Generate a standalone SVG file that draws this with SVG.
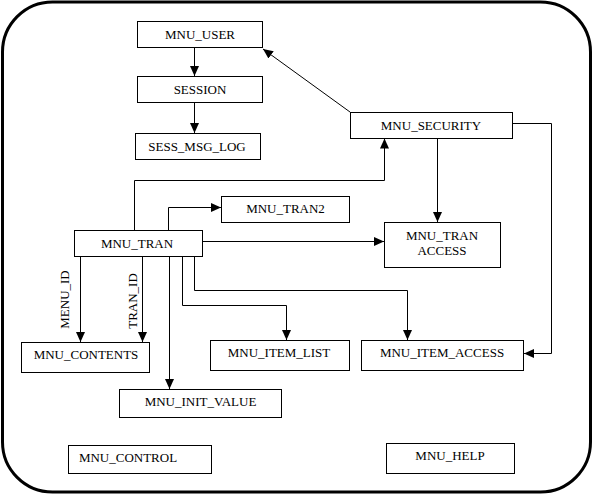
<svg xmlns="http://www.w3.org/2000/svg" width="593" height="495" viewBox="0 0 593 495">
<style>
.box{fill:#fff;stroke:#000;stroke-width:1}
.t{font-family:"Liberation Serif","Times New Roman",serif;font-size:13px;fill:#000;text-anchor:middle}
.c{fill:none;stroke:#000;stroke-width:1}
</style>
<defs>
<marker id="ah" markerUnits="userSpaceOnUse" markerWidth="10" markerHeight="10" refX="10" refY="4.5" orient="auto" viewBox="0 0 10 9">
<path d="M0,0 L10,4.5 L0,9 z" fill="#000"/>
</marker>
</defs>
<rect x="2.5" y="2" width="588" height="490" rx="50" ry="50" fill="#fff" stroke="#000" stroke-width="3"/>
<g id="connectors">
<path class="c" d="M194.5,47 V76" marker-end="url(#ah)"/>
<path class="c" d="M194.5,102 V133" marker-end="url(#ah)"/>
<path class="c" d="M350,112 L263,49" marker-end="url(#ah)"/>
<path class="c" d="M512,123.5 H551.5 V353.5 H524" marker-end="url(#ah)"/>
<path class="c" d="M437.5,138 V222" marker-end="url(#ah)"/>
<path class="c" d="M134.5,230 V180.5 H384.5 V138.5" marker-end="url(#ah)"/>
<path class="c" d="M168.5,230 V207.5 H221" marker-end="url(#ah)"/>
<path class="c" d="M202,241.5 H384" marker-end="url(#ah)"/>
<path class="c" d="M80.5,256 V342" marker-end="url(#ah)"/>
<path class="c" d="M142.5,256 V342" marker-end="url(#ah)"/>
<path class="c" d="M169.5,256 V389" marker-end="url(#ah)"/>
<path class="c" d="M182.5,256 V305.5 H286.5 V340" marker-end="url(#ah)"/>
<path class="c" d="M194.5,256 V290.5 H407.5 V340" marker-end="url(#ah)"/>
<text class="t" transform="translate(69,299.5) rotate(-90)">MENU_ID</text>
<text class="t" transform="translate(136.5,301) rotate(-90)">TRAN_ID</text>
</g>
<g id="mnu_user"><rect class="box" x="137.5" y="21.5" width="125" height="26"/><text class="t" x="200" y="38.5">MNU_USER</text></g>
<g id="session"><rect class="box" x="137.5" y="76.5" width="125" height="26"/><text class="t" x="200" y="94.3">SESSION</text></g>
<g id="sess_msg_log"><rect class="box" x="135.5" y="133.5" width="125" height="26"/><text class="t" x="197" y="151">SESS_MSG_LOG</text></g>
<g id="mnu_security"><rect class="box" x="350.5" y="112.5" width="162" height="26"/><text class="t" x="431" y="130">MNU_SECURITY</text></g>
<g id="mnu_tran2"><rect class="box" x="221.5" y="196.5" width="128" height="26"/><text class="t" x="285.5" y="213">MNU_TRAN2</text></g>
<g id="mnu_tran"><rect class="box" x="74.5" y="230.5" width="128" height="26"/><text class="t" x="137" y="248">MNU_TRAN</text></g>
<g id="mnu_tran_access"><rect class="box" x="384.5" y="222.5" width="116" height="45"/><text class="t" x="442" y="240">MNU_TRAN</text><text class="t" x="442" y="255.3">ACCESS</text></g>
<g id="mnu_contents"><rect class="box" x="21.5" y="342.5" width="128" height="30"/><text class="t" x="86" y="359">MNU_CONTENTS</text></g>
<g id="mnu_item_list"><rect class="box" x="210.5" y="340.5" width="139" height="30"/><text class="t" x="279" y="357.3">MNU_ITEM_LIST</text></g>
<g id="mnu_item_access"><rect class="box" x="361.5" y="340.5" width="162" height="30"/><text class="t" x="442" y="357.3">MNU_ITEM_ACCESS</text></g>
<g id="mnu_init_value"><rect class="box" x="119.5" y="389.5" width="162" height="28"/><text class="t" x="200.5" y="406">MNU_INIT_VALUE</text></g>
<g id="mnu_control"><rect class="box" x="68.5" y="445.5" width="143" height="28"/><text class="t" x="128" y="462">MNU_CONTROL</text></g>
<g id="mnu_help"><rect class="box" x="386.5" y="443.5" width="128" height="30"/><text class="t" x="450" y="460">MNU_HELP</text></g>
</svg>
